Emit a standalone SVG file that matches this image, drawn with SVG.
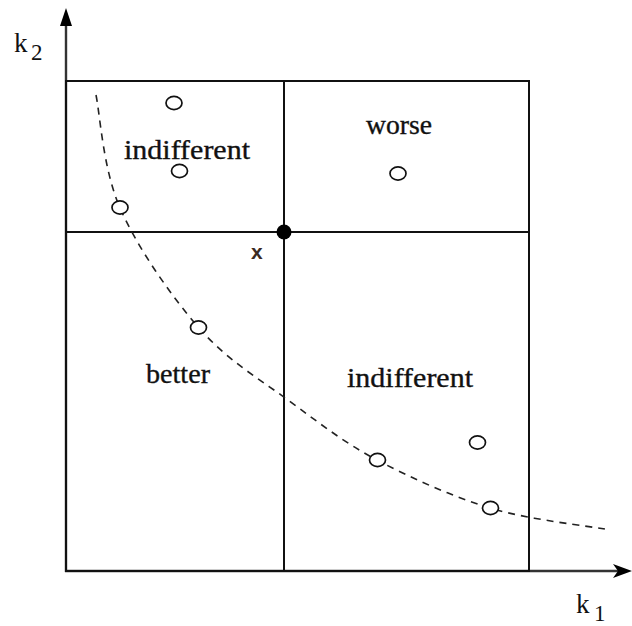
<svg xmlns="http://www.w3.org/2000/svg" width="632" height="626" viewBox="0 0 632 626">
<style>
.ax{stroke:#333;stroke-width:2.4;fill:none}
.ln{stroke:#111;stroke-width:2;fill:none}
.pt{stroke:#111;stroke-width:1.7;fill:#fff}
.sf{font-family:'Liberation Serif','Times New Roman',serif}
.lb{font-size:27px;fill:#111;stroke:#111;stroke-width:0.35}
</style>
<rect width="632" height="626" fill="#fff"/>
<g id="axes">
<line class="ax" x1="66" y1="22" x2="66" y2="572"/>
<line class="ax" x1="65" y1="571" x2="620" y2="571"/>
<polygon points="66,8 60,26 72,26" fill="#000"/>
<polygon points="632,571 613,564 618,571 613,578" fill="#000"/>
<text class="sf" x="14" y="52" font-size="27" fill="#111">k</text>
<text class="sf" x="31" y="60" font-size="23" fill="#111">2</text>
<text class="sf" x="576" y="613" font-size="27" fill="#111">k</text>
<text class="sf" x="594" y="621" font-size="23" fill="#111">1</text>
</g>
<g id="grid">
<rect class="ln" x="66" y="81" width="463" height="490"/>
<line class="ln" x1="66" y1="232" x2="529" y2="232"/>
<line class="ln" x1="284" y1="81" x2="284" y2="571"/>
</g>
<g id="connectors">
<path d="M96,95 C100,114 103,169 120,208 C137,247 171,296 199,328 C227,360 258,378 288,400 C318,422 343,442 377,460 C411,478 451,496 490,508 C529,520 590,526 610,530" fill="none" stroke="#222" stroke-width="1.6" stroke-dasharray="7,6"/>
</g>
<g id="labels">
<text class="sf lb" x="124" y="159" textLength="126" lengthAdjust="spacingAndGlyphs">indifferent</text>
<text class="sf lb" x="366" y="134" textLength="66" lengthAdjust="spacingAndGlyphs">worse</text>
<text class="sf lb" x="146" y="383" textLength="64" lengthAdjust="spacingAndGlyphs">better</text>
<text class="sf lb" x="347" y="387" textLength="126" lengthAdjust="spacingAndGlyphs">indifferent</text>
<text x="251" y="259" font-family="'Liberation Sans', Arial, sans-serif" font-size="21" font-weight="bold" fill="#3b2a22">x</text>
</g>
<g id="points">
<ellipse class="pt" cx="174" cy="103" rx="8" ry="6.6"/>
<ellipse class="pt" cx="179.5" cy="171" rx="8" ry="6.6"/>
<ellipse class="pt" cx="120" cy="207.5" rx="8" ry="6.6"/>
<ellipse class="pt" cx="398" cy="173.5" rx="8" ry="6.6"/>
<ellipse class="pt" cx="198.5" cy="327.5" rx="8" ry="6.6"/>
<ellipse class="pt" cx="377.5" cy="460" rx="8" ry="6.6"/>
<ellipse class="pt" cx="477.5" cy="442.5" rx="8" ry="6.6"/>
<ellipse class="pt" cx="490.5" cy="508" rx="8" ry="6.6"/>
<circle id="x-point" cx="284" cy="232" r="7.5" fill="#000"/>
</g>
</svg>
